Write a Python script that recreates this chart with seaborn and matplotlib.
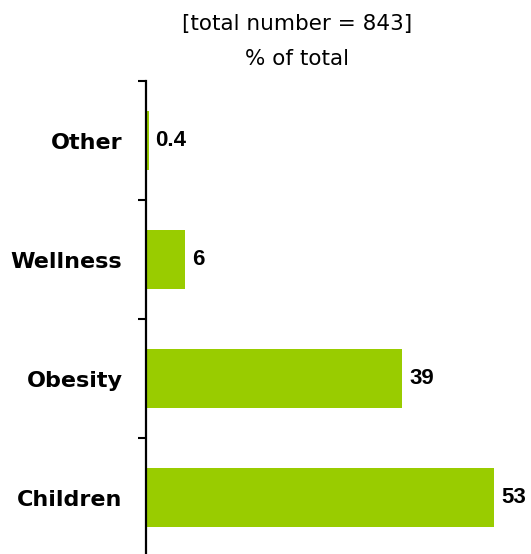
import matplotlib
matplotlib.use("Agg")
import matplotlib.pyplot as plt
import seaborn as sns
import pandas as pd

categories = ["Other", "Wellness", "Obesity", "Children"]
values = [0.4, 6, 39, 53]
value_labels = ["0.4", "6", "39", "53"]
title_lines = ["[total number = 843]", "% of total"]
bar_color = "#99CC00"

sns.set_theme(style="white")
plt.rcParams["font.family"] = ["DejaVu Sans"]

W, H = 531, 554
fig = plt.figure(figsize=(W / 100, H / 100), dpi=100)
left, right, top, bottom = 146, 527, 81, 557
ax = fig.add_axes([left / W, 1 - bottom / H, (right - left) / W, (bottom - top) / H])

df = pd.DataFrame({"cat": categories, "val": values})
sns.barplot(data=df, x="val", y="cat", order=categories, color=bar_color,
            width=0.5, saturation=1, ax=ax, edgecolor="none")

ax.set_xlim(0, (right - left) / 6.566)
ax.set_ylim(3.5, -0.5)
ax.set_xlabel("")
ax.set_ylabel("")
ax.set_xticks([])
ax.set_yticks([-0.5, 0.5, 1.5, 2.5, 3.5], minor=False)
ax.set_yticklabels([])
ax.set_yticks(range(len(categories)), minor=True)
ax.set_yticklabels(categories, minor=True, fontsize=16, fontweight="bold", color="#000000")
ax.tick_params(axis="y", which="major", length=6, width=1.5, color="black", left=True, direction="out")
ax.tick_params(axis="y", which="minor", length=0, pad=17, left=True)
for s in ["top", "right", "bottom"]:
    ax.spines[s].set_visible(False)
ax.spines["left"].set_color("black")
ax.spines["left"].set_linewidth(1.6)

for i, (v, lab) in enumerate(zip(values, value_labels)):
    ax.annotate(lab, xy=(v, i), xytext=(5, 0), textcoords="offset points",
                va="center", ha="left", fontsize=16, fontweight="bold",
                family=["Liberation Sans"], color="black")

fig.text(297 / W, 1 - 24 / H, title_lines[0], ha="center", va="center", fontsize=15.5, color="black")
fig.text(297 / W, 1 - 59 / H, title_lines[1], ha="center", va="center", fontsize=15.5, color="black")

fig.savefig("out.png", dpi=100)
